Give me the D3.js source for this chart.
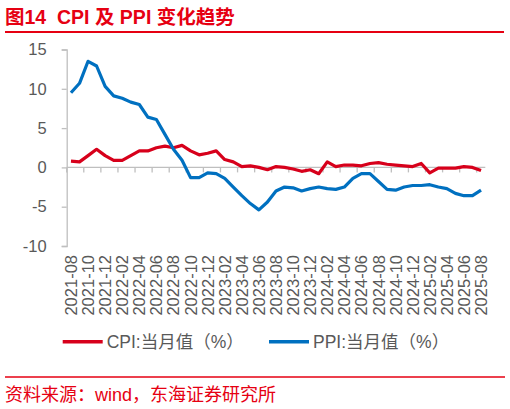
<!DOCTYPE html>
<html>
<head>
<meta charset="utf-8">
<script src="https://cdn.jsdelivr.net/npm/d3@7"></script>
<style>
  body { margin: 0; background: #fff; }
  text { font-family: "Liberation Sans", Arial, "Noto Sans CJK SC", sans-serif; }
  .cjk { font-family: "Liberation Sans", "Noto Sans CJK SC", sans-serif; white-space: pre; }
</style>
</head>
<body>
<div id="chart"></div>
<script>
  let months = [
    '2021-08','2021-09','2021-10','2021-11','2021-12',
    '2022-01','2022-02','2022-03','2022-04','2022-05','2022-06','2022-07','2022-08','2022-09','2022-10','2022-11','2022-12',
    '2023-01','2023-02','2023-03','2023-04','2023-05','2023-06','2023-07','2023-08','2023-09','2023-10','2023-11','2023-12',
    '2024-01','2024-02','2024-03','2024-04','2024-05','2024-06','2024-07','2024-08','2024-09','2024-10','2024-11','2024-12',
    '2025-01','2025-02','2025-03','2025-04','2025-05','2025-06','2025-07','2025-08' ]

  let cpi = [
    0.8, 0.7, 1.5, 2.3, 1.5,
    0.9, 0.9, 1.5, 2.1, 2.1, 2.5, 2.7, 2.5, 2.8, 2.1, 1.6, 1.8,
    2.1, 1.0, 0.7, 0.1, 0.2, 0.0, -0.3, 0.1, 0.0, -0.2, -0.5, -0.3,
    -0.8, 0.7, 0.1, 0.3, 0.3, 0.2, 0.5, 0.6, 0.4, 0.3, 0.2, 0.1,
    0.5, -0.7, -0.1, -0.1, -0.1, 0.1, 0.0, -0.4 ]

  let ppi = [
    9.5, 10.7, 13.5, 12.9, 10.3,
    9.1, 8.8, 8.3, 8.0, 6.4, 6.1, 4.2, 2.3, 0.9, -1.3, -1.3, -0.7,
    -0.8, -1.4, -2.5, -3.6, -4.6, -5.4, -4.4, -3.0, -2.5, -2.6, -3.0, -2.7,
    -2.5, -2.7, -2.8, -2.5, -1.4, -0.8, -0.8, -1.8, -2.8, -2.9, -2.5, -2.3,
    -2.3, -2.2, -2.5, -2.7, -3.3, -3.6, -3.6, -2.9 ]

  let yTicks = [15, 10, 5, 0, -5, -10]

  let series = [
    { name: 'CPI:当月值（%）', values: cpi, color: '#D7001B' },
    { name: 'PPI:当月值（%）', values: ppi, color: '#0070C0' } ]

  let W = 510, H = 409,
      red = '#E60012',
      grey = '#595959',
      axisGrey = '#BFBFBF'

  let svg = d3.select('#chart')
              .append('svg:svg')
              .attr('width', W)
              .attr('height', H)

  let x = d3.scalePoint()
            .domain(months)
            .range([66.7, 485.3])
            .padding(0.5),
      y = d3.scaleLinear()
            .domain([-10, 15])
            .range([246, 49.5]),
      step = x.step()

  // title
  svg.append('svg:text')
    .attr('class', 'cjk')
    .attr('x', 5)
    .attr('y', 24)
    .attr('fill', red)
    .attr('font-size', 19.5)
    .attr('font-weight', 'bold')
    .text('图14  CPI 及 PPI 变化趋势')

  svg.append('svg:line')
    .attr('x1', 5).attr('x2', 504)
    .attr('y1', 32).attr('y2', 32)
    .attr('stroke', red)
    .attr('stroke-width', 2)

  // y axis
  let yAxis = svg.append('svg:g')
    .attr('transform', 'translate(' + x.range()[0] + ',0)')
    .call(d3.axisLeft(y).tickValues(yTicks).tickSize(5).tickPadding(15).tickFormat(d3.format('d')))
  yAxis.select('.domain').attr('stroke', axisGrey).attr('stroke-width', 1.3)
  yAxis.selectAll('.tick line').attr('stroke', axisGrey).attr('stroke-width', 1.3)
  yAxis.selectAll('.tick text')
    .attr('fill', grey)
    .attr('font-size', 16.5)
    .attr('font-family', '"Liberation Sans", Arial, sans-serif')
    .text(function(d) { return d < 0 ? '-' + Math.abs(d) : d })

  // x axis at zero line, ticks between every second month
  let tickMonths = months.filter(function(d, i) { return i % 2 === 0 })
  let xg = svg.append('svg:g')
  xg.append('svg:line')
    .attr('x1', x.range()[0]).attr('x2', x.range()[1])
    .attr('y1', y(0)).attr('y2', y(0))
    .attr('stroke', axisGrey)
    .attr('stroke-width', 1.3)
  xg.selectAll('line.tk').data(tickMonths)
    .enter().append('svg:line')
      .attr('class', 'tk')
      .attr('x1', function(d) { return x(d) - step / 2 })
      .attr('x2', function(d) { return x(d) - step / 2 })
      .attr('y1', y(0)).attr('y2', y(0) + 5)
      .attr('stroke', axisGrey)
      .attr('stroke-width', 1.3)
  xg.selectAll('text').data(tickMonths)
    .enter().append('svg:text')
      .attr('transform', function(d) { return 'translate(' + (x(d) + 6) + ',255) rotate(-90)' })
      .attr('text-anchor', 'end')
      .attr('fill', grey)
      .attr('font-size', 16.5)
      .text(function(d) { return d })

  // lines
  let line = d3.line()
               .x(function(d, i) { return x(months[i]) })
               .y(function(d) { return y(d) })

  svg.append('svg:g').selectAll('path').data(series)
    .enter().append('svg:path')
      .attr('d', function(d) { return line(d.values) })
      .attr('fill', 'none')
      .attr('stroke', function(d) { return d.color })
      .attr('stroke-width', 3.2)
      .attr('stroke-linejoin', 'round')

  // legend
  let legX = [62.7, 269]
  let leg = svg.append('svg:g').selectAll('g').data(series)
    .enter().append('svg:g')
      .attr('transform', function(d, i) { return 'translate(' + legX[i] + ',341.7)' })
  leg.append('svg:line')
    .attr('x1', 0).attr('x2', 40)
    .attr('stroke', function(d) { return d.color })
    .attr('stroke-width', 3.5)
  leg.append('svg:text')
    .attr('class', 'cjk')
    .attr('x', 44)
    .attr('y', 6)
    .attr('fill', grey)
    .attr('font-size', 17.5)
    .text(function(d) { return d.name })

  // source
  svg.append('svg:line')
    .attr('x1', 5).attr('x2', 505)
    .attr('y1', 377).attr('y2', 377)
    .attr('stroke', red)
    .attr('stroke-width', 1.5)

  svg.append('svg:text')
    .attr('class', 'cjk')
    .attr('x', 5)
    .attr('y', 401)
    .attr('fill', red)
    .attr('font-size', 18)
    .text('资料来源：wind，东海证券研究所')
</script>
</body>
</html>
